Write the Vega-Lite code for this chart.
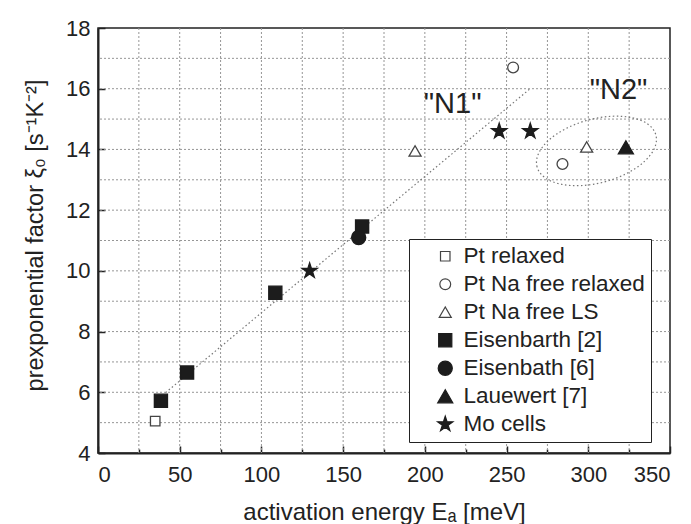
{
  "$schema": "https://vega.github.io/schema/vega-lite/v6.json",
  "width": 572,
  "height": 425,
  "autosize": {"type": "none"},
  "padding": {"left": 98, "top": 28, "right": 21, "bottom": 71},
  "background": "white",
  "config": {
    "font": "Liberation Sans",
    "view": {"stroke": "#222", "strokeWidth": 1.5},
    "axis": {
      "domainColor": "#222",
      "domainWidth": 2,
      "tickColor": "#222",
      "tickWidth": 1.5,
      "labelFont": "Liberation Sans",
      "labelFontSize": 22,
      "labelColor": "#222",
      "titleFont": "Liberation Sans",
      "titleFontWeight": "normal",
      "titleColor": "#222",
      "grid": false,
      "zindex": 1
    },
    "legend": {
      "orient": "none",
      "legendX": 311,
      "legendY": 211,
      "padding": 6,
      "strokeColor": "#222",
      "fillColor": "white",
      "labelFont": "Liberation Sans",
      "labelFontSize": 22.5,
      "labelColor": "#222",
      "labelOffset": 7,
      "rowPadding": 5,
      "symbolOffset": 19,
      "symbolStrokeWidth": 1.2,
      "labelLimit": 300
    }
  },
  "datasets": {
    "measurements": [
      {"series": "Pt relaxed", "E": 35, "xi": 5.05},
      {"series": "Pt Na free relaxed", "E": 254, "xi": 16.7},
      {"series": "Pt Na free relaxed", "E": 284.2, "xi": 13.52},
      {"series": "Pt Na free LS", "E": 194, "xi": 13.95},
      {"series": "Pt Na free LS", "E": 299, "xi": 14.08},
      {"series": "Eisenbarth [2]", "E": 38.5, "xi": 5.72},
      {"series": "Eisenbarth [2]", "E": 54.5, "xi": 6.65},
      {"series": "Eisenbarth [2]", "E": 108.5, "xi": 9.28},
      {"series": "Eisenbarth [2]", "E": 161.6, "xi": 11.46},
      {"series": "Eisenbath [6]", "E": 159.5, "xi": 11.1},
      {"series": "Lauewert [7]", "E": 323, "xi": 14.07},
      {"series": "Mo cells", "E": 129.5, "xi": 10.0},
      {"series": "Mo cells", "E": 245.5, "xi": 14.6},
      {"series": "Mo cells", "E": 264.5, "xi": 14.6}
    ],
    "gridE": [
      {"E": 25}, {"E": 50}, {"E": 75}, {"E": 100}, {"E": 125}, {"E": 150},
      {"E": 175}, {"E": 200}, {"E": 225}, {"E": 250}, {"E": 275}, {"E": 300}, {"E": 325}
    ],
    "gridXi": [
      {"xi": 5}, {"xi": 6}, {"xi": 7}, {"xi": 8}, {"xi": 9}, {"xi": 10}, {"xi": 11},
      {"xi": 12}, {"xi": 13}, {"xi": 14}, {"xi": 15}, {"xi": 16}, {"xi": 17}
    ],
    "fit": [
      {"E": 41.4, "xi": 5.99},
      {"E": 264.4, "xi": 16.0}
    ],
    "groups": [
      {"E": 305, "xi": 13.95}
    ],
    "labels": [
      {"E": 217, "xi": 15.5, "text": "\"N1\""},
      {"E": 318.5, "xi": 15.95, "text": "\"N2\""}
    ]
  },
  "layer": [
    {
      "data": {"name": "gridE"},
      "mark": {"type": "rule", "color": "#969696", "strokeWidth": 1, "strokeDash": [2, 2]},
      "encoding": {
        "x": {
          "field": "E",
          "type": "quantitative",
          "scale": {"domain": [0, 350], "nice": false, "zero": false},
          "axis": {
            "title": "activation energy Eₐ [meV]",
            "titleFontSize": 24,
            "values": [0, 25, 50, 75, 100, 125, 150, 175, 200, 225, 250, 275, 300, 325, 350],
            "labelExpr": "datum.value % 50 === 0 ? datum.label : ''",
            "tickSize": {"condition": {"test": "datum.value % 50 === 0", "value": -7}, "value": -4},
            "labelPadding": 18,
            "titleX": 286,
            "titleY": 66,
            "titleBaseline": "alphabetic",
            "titleAlign": "center"
          }
        }
      }
    },
    {
      "data": {"name": "gridXi"},
      "mark": {"type": "rule", "color": "#969696", "strokeWidth": 1, "strokeDash": [2, 2]},
      "encoding": {
        "y": {
          "field": "xi",
          "type": "quantitative",
          "scale": {"domain": [4, 18], "nice": false, "zero": false},
          "axis": {
            "title": "prexponential factor ξ₀ [s⁻¹K⁻²]",
            "titleFontSize": 23.5,
            "values": [4, 5, 6, 7, 8, 9, 10, 11, 12, 13, 14, 15, 16, 17, 18],
            "labelExpr": "datum.value % 2 === 0 ? datum.label : ''",
            "tickSize": {"condition": {"test": "datum.value % 2 === 0", "value": -7}, "value": -4},
            "labelPadding": 15,
            "titleX": -56,
            "titleY": 207,
            "titleAngle": -90,
            "titleBaseline": "alphabetic",
            "titleAlign": "center"
          }
        }
      }
    },
    {
      "data": {"name": "fit"},
      "mark": {"type": "line", "color": "#777", "strokeWidth": 1.2, "strokeDash": [1.5, 2.5]},
      "encoding": {
        "x": {"field": "E", "type": "quantitative", "scale": {"domain": [0, 350], "nice": false, "zero": false}},
        "y": {"field": "xi", "type": "quantitative", "scale": {"domain": [4, 18], "nice": false, "zero": false}}
      }
    },
    {
      "data": {"name": "groups"},
      "mark": {
        "type": "point",
        "filled": false,
        "shape": "M-1,0C-1,-0.2872,-0.5523,-0.52,0,-0.52C0.5523,-0.52,1,-0.2872,1,0C1,0.2872,0.5523,0.52,0,0.52C-0.5523,0.52,-1,0.2872,-1,0Z",
        "size": 15129,
        "angle": -15,
        "stroke": "#777",
        "strokeWidth": 1.2,
        "strokeDash": [1.5, 2.5],
        "opacity": 1
      },
      "encoding": {
        "x": {"field": "E", "type": "quantitative", "scale": {"domain": [0, 350], "nice": false, "zero": false}},
        "y": {"field": "xi", "type": "quantitative", "scale": {"domain": [4, 18], "nice": false, "zero": false}}
      }
    },
    {
      "data": {"name": "measurements"},
      "mark": {"type": "point", "filled": true, "opacity": 1, "strokeWidth": 1.3},
      "encoding": {
        "x": {"field": "E", "type": "quantitative", "scale": {"domain": [0, 350], "nice": false, "zero": false}},
        "y": {"field": "xi", "type": "quantitative", "scale": {"domain": [4, 18], "nice": false, "zero": false}},
        "shape": {
          "field": "series",
          "type": "nominal",
          "title": null,
          "scale": {
            "domain": ["Pt relaxed", "Pt Na free relaxed", "Pt Na free LS", "Eisenbarth [2]", "Eisenbath [6]", "Lauewert [7]", "Mo cells"],
            "range": ["square", "circle", "triangle-up", "square", "circle", "triangle-up", "M0,-1L0.2233,-0.3074L0.9511,-0.309L0.3614,0.1174L0.5878,0.809L0,0.38L-0.5878,0.809L-0.3614,0.1174L-0.9511,-0.309L-0.2233,-0.3074Z"]
          }
        },
        "fill": {
          "field": "series",
          "type": "nominal",
          "title": null,
          "scale": {
            "domain": ["Pt relaxed", "Pt Na free relaxed", "Pt Na free LS", "Eisenbarth [2]", "Eisenbath [6]", "Lauewert [7]", "Mo cells"],
            "range": ["white", "white", "white", "#1c1c1c", "#1c1c1c", "#1c1c1c", "#1c1c1c"]
          }
        },
        "stroke": {
          "field": "series",
          "type": "nominal",
          "title": null,
          "scale": {
            "domain": ["Pt relaxed", "Pt Na free relaxed", "Pt Na free LS", "Eisenbarth [2]", "Eisenbath [6]", "Lauewert [7]", "Mo cells"],
            "range": ["#444", "#444", "#444", "#1c1c1c", "#1c1c1c", "#1c1c1c", "#1c1c1c"]
          }
        },
        "size": {
          "field": "series",
          "type": "nominal",
          "title": null,
          "scale": {
            "domain": ["Pt relaxed", "Pt Na free relaxed", "Pt Na free LS", "Eisenbarth [2]", "Eisenbath [6]", "Lauewert [7]", "Mo cells"],
            "range": [90, 255, 330, 165, 170, 300, 260]
          }
        }
      }
    },
    {
      "data": {"name": "labels"},
      "mark": {"type": "text", "font": "Liberation Sans", "fontSize": 29, "color": "#222", "align": "center", "baseline": "middle"},
      "encoding": {
        "x": {"field": "E", "type": "quantitative", "scale": {"domain": [0, 350], "nice": false, "zero": false}},
        "y": {"field": "xi", "type": "quantitative", "scale": {"domain": [4, 18], "nice": false, "zero": false}},
        "text": {"field": "text", "type": "nominal"}
      }
    }
  ]
}
